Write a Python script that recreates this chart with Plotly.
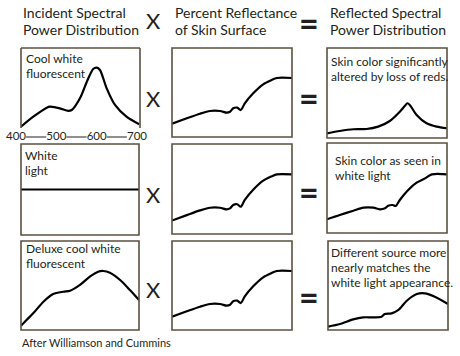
import plotly.graph_objects as go

W, H = 460, 356
FONT = "Lato"
TXT = "#231f20"
BOX = "#5b513f"

# ---------------- data (wavelength nm, relative level 0..1) ----------------
cool_wl = [400, 431, 465, 473, 498, 519, 528, 549, 566, 582, 591, 599, 616, 637, 666, 698]
cool_v = [0.016, 0.141, 0.254, 0.266, 0.246, 0.213, 0.225, 0.375, 0.579, 0.738, 0.754, 0.725, 0.496, 0.288, 0.141, 0.046]

white_wl = [400, 700]
white_v = [0.5, 0.5]

deluxe_wl = [400, 414, 431, 457, 482, 508, 525, 550, 575, 596, 609, 626, 652, 677, 700]
deluxe_v = [0.048, 0.112, 0.187, 0.318, 0.404, 0.430, 0.441, 0.506, 0.599, 0.655, 0.663, 0.644, 0.562, 0.449, 0.337]

skin_wl = [400, 437, 470, 495, 520, 537, 545, 553, 563, 572, 582, 603, 628, 649, 662, 700]
skin_v = [0.149, 0.210, 0.262, 0.292, 0.292, 0.273, 0.284, 0.323, 0.330, 0.303, 0.378, 0.491, 0.592, 0.640, 0.663, 0.663]

refl_cool_wl = [400, 432, 466, 499, 528, 557, 582, 595, 601, 607, 624, 649, 674, 700]
refl_cool_v = [0.052, 0.078, 0.097, 0.100, 0.126, 0.189, 0.292, 0.359, 0.386, 0.367, 0.256, 0.163, 0.126, 0.108]

refl_white_wl = [400, 432, 466, 491, 516, 532, 545, 553, 564, 572, 582, 603, 624, 645, 662, 700]
refl_white_v = [0.152, 0.200, 0.248, 0.281, 0.281, 0.263, 0.274, 0.303, 0.311, 0.300, 0.367, 0.478, 0.559, 0.607, 0.652, 0.652]

refl_deluxe_wl = [400, 430, 463, 488, 513, 534, 542, 559, 576, 597, 622, 642, 667, 700]
refl_deluxe_v = [0.037, 0.067, 0.120, 0.142, 0.142, 0.149, 0.180, 0.187, 0.225, 0.329, 0.404, 0.412, 0.374, 0.292]

wl_ticks = [400, 500, 600, 700]
wl_tick_labels = ["400", "500", "600", "700"]

headers = [
    ["Incident Spectral", "Power Distribution"],
    ["Percent Reflectance", "of Skin Surface"],
    ["Reflected Spectral", "Power Distribution"],
]
box_labels = {
    (0, 0): ["Cool white", "fluorescent"],
    (0, 2): ["Skin color significantly", "altered by loss of reds."],
    (1, 0): ["White", "light"],
    (1, 2): ["Skin color as seen in", "white light"],
    (2, 0): ["Deluxe cool white", "fluorescent"],
    (2, 2): ["Different source more", "nearly matches the", "white light appearance."],
}
credit = "After Williamson and Cummins"

curves = [
    [(cool_wl, cool_v), (skin_wl, skin_v), (refl_cool_wl, refl_cool_v)],
    [(white_wl, white_v), (skin_wl, skin_v), (refl_white_wl, refl_white_v)],
    [(deluxe_wl, deluxe_v), (skin_wl, skin_v), (refl_deluxe_wl, refl_deluxe_v)],
]

# ---------------- layout geometry (pixels) ----------------
boxes = [
    [(21, 140, 48, 128), (172, 292, 48, 137), (327, 447, 48, 138)],
    [(21, 139, 144, 235), (172, 292, 144, 234), (327, 447, 143, 233)],
    [(21, 139, 241, 330), (172, 292, 241, 330), (328, 448, 241, 330)],
]
label_pos = {
    (0, 0): (24, 63), (0, 2): (329, 66),
    (1, 0): (23, 160), (1, 2): (333, 165),
    (2, 0): (24, 253), (2, 2): (329, 257),
}
times_y = [98, 194, 289]
equals_y = [97, 191, 296]


def px(x):
    return x / W


def py(y):
    return 1 - y / H


fig = go.Figure()
layout = dict(
    width=W, height=H, margin=dict(l=0, r=0, t=0, b=0),
    paper_bgcolor="white", plot_bgcolor="rgba(0,0,0,0)",
    showlegend=False, annotations=[], shapes=[],
)

n = 0
for r in range(3):
    for c in range(3):
        n += 1
        x0, x1, y0, y1 = boxes[r][c]
        sx = "" if n == 1 else str(n)
        layout["xaxis" + sx] = dict(domain=[px(x0), px(x1)], range=[400, 700], visible=False,
                                    anchor="y" + sx, fixedrange=True)
        layout["yaxis" + sx] = dict(domain=[py(y1), py(y0)], range=[0, 1], visible=False,
                                    anchor="x" + sx, fixedrange=True)
        wl, v = curves[r][c]
        fig.add_trace(go.Scatter(x=wl, y=v, mode="lines", xaxis="x" + sx, yaxis="y" + sx,
                                 line=dict(color="black", width=2.2, shape="spline", smoothing=0.8),
                                 hoverinfo="skip"))
        xr, yr = "x" + sx + " domain", "y" + sx + " domain"
        ln = dict(color=BOX, width=1.6)
        if (r, c) == (0, 0):
            for (a, b, cc, d) in [(0, 0, 0, 1), (1, 1, 0, 1), (0, 1, 1, 1)]:
                layout["shapes"].append(dict(type="line", xref=xr, yref=yr, x0=a, x1=b, y0=cc, y1=d, line=ln))
        else:
            layout["shapes"].append(dict(type="rect", xref=xr, yref=yr, x0=0, x1=1, y0=0, y1=1, line=ln))

# wavelength scale under the first panel (its own axis: 400 -> ~16px, 700 -> ~137px)
nm_per_px = 300 / 121.0
layout["xaxis10"] = dict(domain=[px(8), px(146)], range=[400 - 8 * nm_per_px, 700 + 9 * nm_per_px],
                         anchor="y10", visible=False, fixedrange=True)
layout["yaxis10"] = dict(domain=[py(144), py(130)], range=[0, 1], anchor="x10", visible=False,
                         fixedrange=True)
dash_x, dash_y = [], []
for a, b in zip(wl_ticks[:-1], wl_ticks[1:]):
    dash_x += [a + 25, b - 25, None]
    dash_y += [0.5, 0.5, None]
fig.add_trace(go.Scatter(x=dash_x, y=dash_y, mode="lines", xaxis="x10", yaxis="y10",
                         line=dict(color=TXT, width=1), hoverinfo="skip"))
fig.add_trace(go.Scatter(x=wl_ticks, y=[0.5] * len(wl_ticks), mode="text", text=wl_tick_labels,
                         textposition="middle center", xaxis="x10", yaxis="y10", cliponaxis=False,
                         textfont=dict(family=FONT, size=11.5, color=TXT), hoverinfo="skip"))

# headers
HF = 14
for (xl, lines) in zip([21, 173, 328], headers):
    for i, s in enumerate(lines):
        base = 18 + 17 * i
        layout["annotations"].append(dict(x=px(xl), y=py(base - 0.38 * HF), xref="paper", yref="paper",
                                          text=s, showarrow=False, xanchor="left", yanchor="middle",
                                          font=dict(family=FONT, size=HF, color=TXT)))


def sign(text, x, y, size):
    layout["annotations"].append(dict(x=px(x), y=py(y), xref="paper", yref="paper", text=text,
                                      showarrow=False, xanchor="center", yanchor="middle",
                                      font=dict(family=FONT, size=size, color=TXT)))


sign("X", 153, 21, 22)
sign("<b>=</b>", 309, 23, 34)
for r in range(3):
    sign("X", 153, times_y[r], 22)
    sign("<b>=</b>", 309, equals_y[r], 34)

# labels inside boxes
BF = 12
for key, lines in box_labels.items():
    xl, base0 = label_pos[key]
    for i, s in enumerate(lines):
        base = base0 + 15 * i
        layout["annotations"].append(dict(x=px(xl), y=py(base - 0.38 * BF), xref="paper", yref="paper",
                                          text=s, showarrow=False, xanchor="left", yanchor="middle",
                                          font=dict(family=FONT, size=BF, color=TXT)))

layout["annotations"].append(dict(x=px(20), y=py(347 - 0.38 * 11), xref="paper", yref="paper", text=credit,
                                  showarrow=False, xanchor="left", yanchor="middle",
                                  font=dict(family=FONT, size=11, color=TXT)))

fig.update_layout(**layout)
fig.write_html("out.html", config={"displayModeBar": False, "staticPlot": True},
               post_script="document.body.style.margin='0';")
